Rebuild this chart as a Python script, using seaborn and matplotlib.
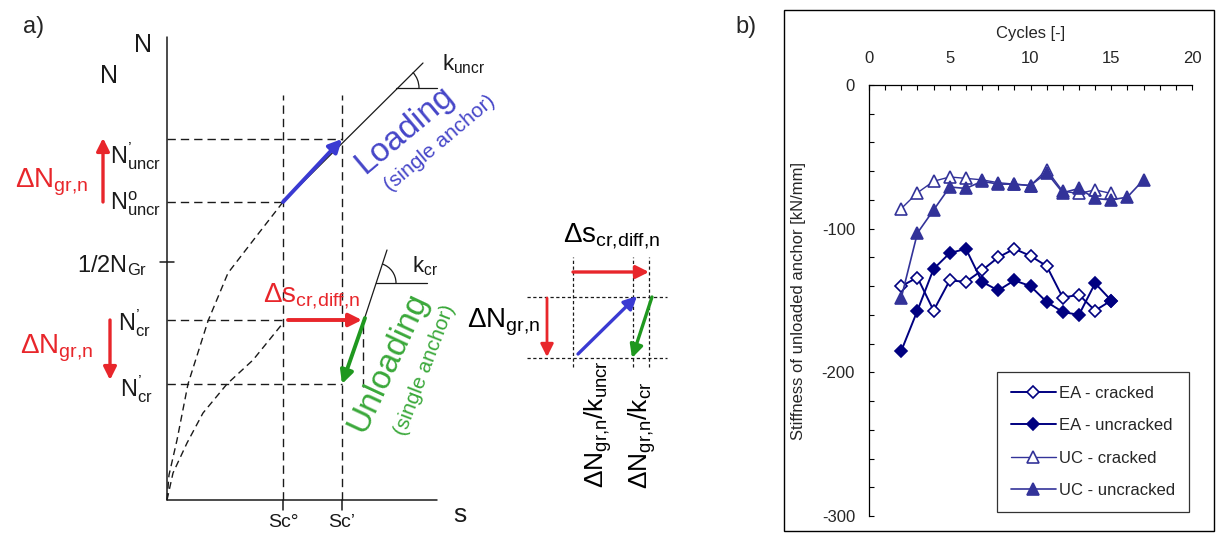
import matplotlib
matplotlib.use("Agg")
import matplotlib.pyplot as plt
import seaborn as sns
from matplotlib.patches import Arc, Rectangle
from matplotlib.ticker import MultipleLocator

# ---------------------------------------------------------------- data (panel b)
cycles_ea = list(range(2, 16))
ea_cracked = [-140, -134, -157, -136, -137, -129, -120, -114, -119, -126, -148, -146, -157, -150]
ea_uncracked = [-185, -157, -128, -117, -114, -137, -143, -136, -140, -151, -158, -160, -138, -150]

cycles_uc_cracked = list(range(2, 16))
uc_cracked = [-86, -75, -67, -64, -65, -66, -68, -69, -70, -59, -74, -75.5, -73, -75.5]
cycles_uc_uncracked = list(range(2, 18))
uc_uncracked = [-148, -103, -87, -71, -72, -67, -69, -69, -70, -61, -75, -72, -79, -80, -78, -66]

x_ticks = [0, 5, 10, 15, 20]
y_ticks = [0, -100, -200, -300]

# ------------------------------------------------------ schematic levels (panel a)
# s / N positions of the schematic load-displacement sketch (arbitrary units)
n_top, s_end = 463, 270
n_uncr1, n_uncr0, n_half_gr, n_cr0, n_cr1 = 361, 298, 238, 180, 116
s_c0, s_c1, s_cr_end = 116, 175, 196
curve_a_s = [0, 2, 10, 21, 41, 61, 88, 116]
curve_a_n = [0, 25, 60, 116, 179, 227, 262, 298]
curve_b_s = [0, 6, 20, 36, 60, 86, 116]
curve_b_n = [0, 27, 57, 87, 116, 140, 177]

W, H = 1216, 533
sns.set_style("ticks")
plt.rcParams["font.family"] = ["Liberation Sans", "DejaVu Sans"]
plt.rcParams["axes.unicode_minus"] = False
plt.rcParams["mathtext.fontset"] = "custom"
plt.rcParams["mathtext.rm"] = "Liberation Sans"
plt.rcParams["mathtext.it"] = "Liberation Sans:italic"
plt.rcParams["mathtext.bf"] = "Liberation Sans:bold"

fig = plt.figure(figsize=(W / 100, H / 100), dpi=100)
fig.patch.set_facecolor("white")

RED = "#e8262b"
BLUE = "#3a3ad2"
BLUE_TXT = "#4646c8"
GREEN = "#1f981f"
GREEN_TXT = "#3aa83a"
INK = "#1a1a1a"

# ================================================================ panel a
d = fig.add_axes([0, 0, 1, 1])
d.set_xlim(-167, W - 167)
d.set_ylim(500 - H, 500)
d.axis("off")

dash = (0, (6, 3.6))
fine = (0, (2.6, 2.0))

# axes of the sketch
d.plot([0, 0], [0, n_top], color=INK, lw=1.1)
d.plot([0, s_end], [0, 0], color=INK, lw=1.1)
d.plot([-7, 7], [n_half_gr, n_half_gr], color=INK, lw=1.1)
for s in (s_c0, s_c1):
    d.plot([s, s], [0, -10], color=INK, lw=1.1)
    d.plot([s, s], [0, 405], color=INK, lw=1.0, ls=dash)

# reference levels
d.plot([0, s_c1], [n_uncr1, n_uncr1], color=INK, lw=1.0, ls=dash)
d.plot([0, s_c0], [n_uncr0, n_uncr0], color=INK, lw=1.0, ls=dash)
d.plot([0, s_c0], [n_cr0, n_cr0], color=INK, lw=1.0, ls=dash)
d.plot([0, s_c1], [n_cr1, n_cr1], color=INK, lw=1.0, ls=dash)
d.plot([s_cr_end, s_cr_end], [113, n_cr0], color=INK, lw=1.0, ls=dash)

# load-displacement curves
d.plot(curve_a_s, curve_a_n, color=INK, lw=1.0, ls=(0, (5, 3.2)))
d.plot(curve_b_s, curve_b_n, color=INK, lw=1.0, ls=(0, (5, 3.2)))

# loading stiffness line with angle mark
d.plot([s_c0, 256], [n_uncr0, 437], color=INK, lw=0.9)
d.plot([229, 270], [412, 412], color=INK, lw=0.9)
d.add_patch(Arc((229, 412), 46, 46, theta1=0, theta2=43, color=INK, lw=0.9))
# unloading stiffness line with angle mark
d.plot([198, 220], [183, 250], color=INK, lw=0.9)
d.plot([209, 260], [217, 217], color=INK, lw=0.9)
d.add_patch(Arc((209, 217), 40, 40, theta1=0, theta2=72, color=INK, lw=0.9))


def arrow(ax, start, end, color, lw=2.8, scale=11):
    ax.annotate("", xy=end, xytext=start,
                arrowprops=dict(arrowstyle="-|>,head_length=0.7,head_width=0.35",
                                color=color, lw=lw, mutation_scale=scale,
                                shrinkA=0, shrinkB=0))


arrow(d, (s_c0, n_uncr0), (s_c1, n_uncr1), BLUE)
arrow(d, (198, 182), (s_c1, n_cr1), GREEN)
arrow(d, (121, n_cr0), (s_cr_end - 1, n_cr0), RED)
arrow(d, (-64, 298), (-64, 362), RED, lw=2.4)
arrow(d, (-57, 180), (-57, 120), RED, lw=2.4)

# labels of the sketch
DN = r"$\mathrm{\Delta N}_{\mathrm{gr{,}n}}$"
DS = r"$\mathrm{\Delta s}_{\mathrm{cr{,}diff{,}n}}$"
d.text(-144, 473, "a)", fontsize=17, ha="left", va="center")
d.text(-24, 455, "N", fontsize=18, ha="center", va="center", color=INK)
d.text(-58, 424, "N", fontsize=18, ha="center", va="center", color=INK)
d.text(-152, 313, DN, fontsize=20, color=RED, va="baseline")
d.text(-147, 147, DN, fontsize=20, color=RED, va="baseline")
d.text(-57, 337, r"$\mathrm{N}_{\mathrm{uncr}}^{\mathrm{’}}$", fontsize=17, color=INK, va="baseline")
d.text(-57, 290, r"$\mathrm{N}_{\mathrm{uncr}}^{\mathrm{o}}$", fontsize=17, color=INK, va="baseline")
d.text(-90, 228, r"$\mathrm{1/2N}_{\mathrm{Gr}}$", fontsize=17, color=INK, va="baseline")
d.text(-49, 170, r"$\mathrm{N}_{\mathrm{cr}}^{\mathrm{’}}$", fontsize=17, color=INK, va="baseline")
d.text(-47, 104, r"$\mathrm{N}_{\mathrm{cr}}^{\mathrm{’}}$", fontsize=17, color=INK, va="baseline")
d.text(96, 198, DS, fontsize=20, color=RED, va="baseline")
d.text(275, 430, r"$\mathrm{k}_{\mathrm{uncr}}$", fontsize=16, color=INK, va="baseline")
d.text(245, 228, r"$\mathrm{k}_{\mathrm{cr}}$", fontsize=16, color=INK, va="baseline")
d.text(238, 370, "Loading", fontsize=24, color=BLUE_TXT, rotation=40,
       ha="center", va="center", rotation_mode="anchor")
d.text(273, 357, "(single anchor)", fontsize=15, color=BLUE_TXT, rotation=40,
       ha="center", va="center", rotation_mode="anchor")
d.text(221, 138, "Unloading", fontsize=24, color=GREEN_TXT, rotation=65,
       ha="center", va="center", rotation_mode="anchor")
d.text(258, 130, "(single anchor)", fontsize=15, color=GREEN_TXT, rotation=69,
       ha="center", va="center", rotation_mode="anchor")
d.text(293, -15, "s", fontsize=19, ha="center", va="center", color=INK)
d.text(s_c0, -14, "Sc°", fontsize=14, ha="center", va="top", color=INK)
d.text(s_c1, -14, "Sc’", fontsize=14, ha="center", va="top", color=INK)

# small explanatory sketch
g_s0, g_s1, g_s2 = 406, 466, 482
g_n0, g_n1 = 142, 203
for s in (g_s0, g_s1, g_s2):
    d.plot([s, s], [133, 243], color=INK, lw=0.9, ls=fine)
for n in (g_n0, g_n1):
    d.plot([360, 500], [n, n], color=INK, lw=0.9, ls=fine)
arrow(d, (g_s0, 228), (g_s2, 228), RED, lw=2.4)
arrow(d, (380, g_n1 - 1), (380, g_n0 + 1), RED, lw=2.0)
arrow(d, (411, 146), (470, g_n1 + 1), BLUE, lw=2.4)
arrow(d, (485, g_n1), (g_s1 - 1, g_n0), GREEN, lw=2.4)
d.text(396, 258, DS, fontsize=20, color="black", va="baseline")
d.text(300, 173, DN, fontsize=20, color="black", va="baseline")
d.text(431, 140, r"$\mathrm{\Delta N}_{\mathrm{gr{,}n}}\mathrm{/k}_{\mathrm{uncr}}$", fontsize=19,
       rotation=90, ha="center", va="top", color="black")
d.text(475, 118, r"$\mathrm{\Delta N}_{\mathrm{gr{,}n}}\mathrm{/k}_{\mathrm{cr}}$", fontsize=19,
       rotation=90, ha="center", va="top", color="black")
d.text(568, 473, "b)", fontsize=17, ha="left", va="center")

# ================================================================ panel b
fig.add_artist(Rectangle((784 / W, 1 - 531 / H), (1214 - 784) / W, (531 - 10) / H,
                         transform=fig.transFigure, fill=False, ec="black", lw=1.0))

ax = fig.add_axes([869 / W, 1 - 516 / H, (1192 - 869) / W, (516 - 85) / H])
ax.set_facecolor("none")

EA = "#000080"
UC = "#333399"
series = [
    ("EA - cracked", cycles_ea, ea_cracked, "D", "white", EA, 5.8, 1.4),
    ("EA - uncracked", cycles_ea, ea_uncracked, "D", EA, EA, 5.8, 1.4),
    ("UC - cracked", cycles_uc_cracked, uc_cracked, "^", "white", UC, 8.5, 1.0),
    ("UC - uncracked", cycles_uc_uncracked, uc_uncracked, "^", UC, UC, 8.5, 1.2),
]
for label, xs, ys, marker, face, color, ms, lw in series:
    sns.lineplot(x=xs, y=ys, ax=ax, color=color, marker=marker, markersize=ms,
                 markerfacecolor=face, markeredgecolor=color, markeredgewidth=1.2,
                 linewidth=lw, label=label, sort=False)

ax.set_xlim(0, 20)
ax.set_ylim(-300, 0)
ax.xaxis.tick_top()
ax.xaxis.set_label_position("top")
ax.set_xticks(x_ticks)
ax.set_yticks(y_ticks)
ax.xaxis.set_minor_locator(MultipleLocator(1))
ax.yaxis.set_minor_locator(MultipleLocator(20))
ax.tick_params(which="both", direction="in", length=3.5, width=0.8, color="black",
               top=True, bottom=False, left=True, right=False)
ax.tick_params(axis="x", which="major", pad=14, labelsize=12)
ax.tick_params(axis="y", which="major", pad=10, labelsize=12)
for side in ("right", "bottom"):
    ax.spines[side].set_visible(False)
for side in ("left", "top"):
    ax.spines[side].set_linewidth(0.9)
    ax.spines[side].set_color("black")
ax.set_xlabel("Cycles [-]", fontsize=12, labelpad=9)
ax.set_ylabel("Stiffness of unloaded anchor [kN/mm]", fontsize=12, labelpad=11)

leg = ax.legend(loc="center", bbox_to_anchor=(1093 / W, 1 - 442 / H),
                bbox_transform=fig.transFigure, fontsize=12, frameon=True,
                fancybox=False, shadow=False, borderpad=0.8, labelspacing=1.05,
                handlelength=2.7, handletextpad=0.2, borderaxespad=0)
leg.get_frame().set_edgecolor("black")
leg.get_frame().set_linewidth(0.9)

fig.savefig("out.png", dpi=100, facecolor="white")
